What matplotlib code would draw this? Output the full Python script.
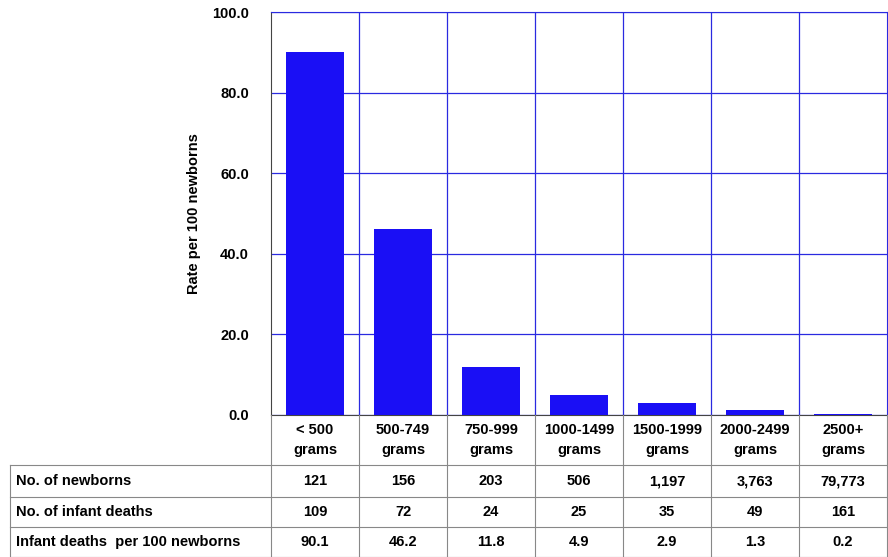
import matplotlib
matplotlib.use("Agg")
import matplotlib.pyplot as plt

plt.rcParams["font.family"] = ["Liberation Sans", "DejaVu Sans"]

categories = ["< 500\ngrams", "500-749\ngrams", "750-999\ngrams", "1000-1499\ngrams",
              "1500-1999\ngrams", "2000-2499\ngrams", "2500+\ngrams"]
rates = [90.1, 46.2, 11.8, 4.9, 2.9, 1.3, 0.2]
newborns = ["121", "156", "203", "506", "1,197", "3,763", "79,773"]
deaths = ["109", "72", "24", "25", "35", "49", "161"]
row_labels = ["No. of newborns", "No. of infant deaths", "Infant deaths  per 100 newborns"]

W, H = 888, 557
blue = "#1a0ff5"
grid_blue = "#2a2ae0"
x0, x1, ytop, ybot = 271, 887, 12, 415
fs = 10.5

fig = plt.figure(figsize=(W / 100, H / 100), dpi=100)
ax = fig.add_axes([x0 / W, 1 - ybot / H, (x1 - x0) / W, (ybot - ytop) / H])
ax.bar(range(len(rates)), rates, width=0.66, color=blue, zorder=3)
ax.set_xlim(-0.5, len(rates) - 0.5)
ax.set_ylim(0, 100)
ax.set_yticks([0, 20, 40, 60, 80, 100])
ax.set_yticklabels([f"{v:.1f}" for v in [0, 20, 40, 60, 80, 100]], fontweight="bold", fontsize=fs)
ax.set_xticks([i + 0.5 for i in range(len(rates) - 1)])
ax.set_xticklabels([])
ax.tick_params(axis="x", length=0)
ax.tick_params(axis="y", length=0, pad=16)
ax.grid(True, color=grid_blue, linewidth=0.9, zorder=0)
for s in ax.spines.values():
    s.set_color(grid_blue)
ax.spines["left"].set_color("#444444")
ax.spines["bottom"].set_color("#444444")
ax.set_ylabel("Rate per 100 newborns", fontweight="bold", fontsize=fs, labelpad=8)

# table overlay in pixel coordinates
tb = fig.add_axes([0, 0, 1, 1])
tb.set_xlim(0, W)
tb.set_ylim(H, 0)
tb.axis("off")
colw = (x1 - x0) / len(rates)
rows_y = [415, 465, 497, 527, 557]
lc = "#888888"
for i in range(len(rates) + 1):
    tb.plot([x0 + i * colw] * 2, [415, 557], color=lc, lw=0.8)
tb.plot([10, 10], [465, 557], color=lc, lw=0.8)
for y in rows_y[1:]:
    tb.plot([10, x1], [y, y], color=lc, lw=0.8)
for i, c in enumerate(categories):
    cx = x0 + (i + 0.5) * colw
    tb.text(cx, 440, c, ha="center", va="center", fontsize=fs, fontweight="bold", linespacing=1.5)
    for r, vals in enumerate([newborns, deaths, [f"{v:.1f}" for v in rates]]):
        tb.text(cx, (rows_y[r + 1] + rows_y[r + 2]) / 2, vals[i], ha="center", va="center",
                fontsize=fs, fontweight="bold")
for r, lab in enumerate(row_labels):
    tb.text(16, (rows_y[r + 1] + rows_y[r + 2]) / 2, lab, ha="left", va="center",
            fontsize=fs, fontweight="bold")

fig.savefig("out.png", dpi=100)
